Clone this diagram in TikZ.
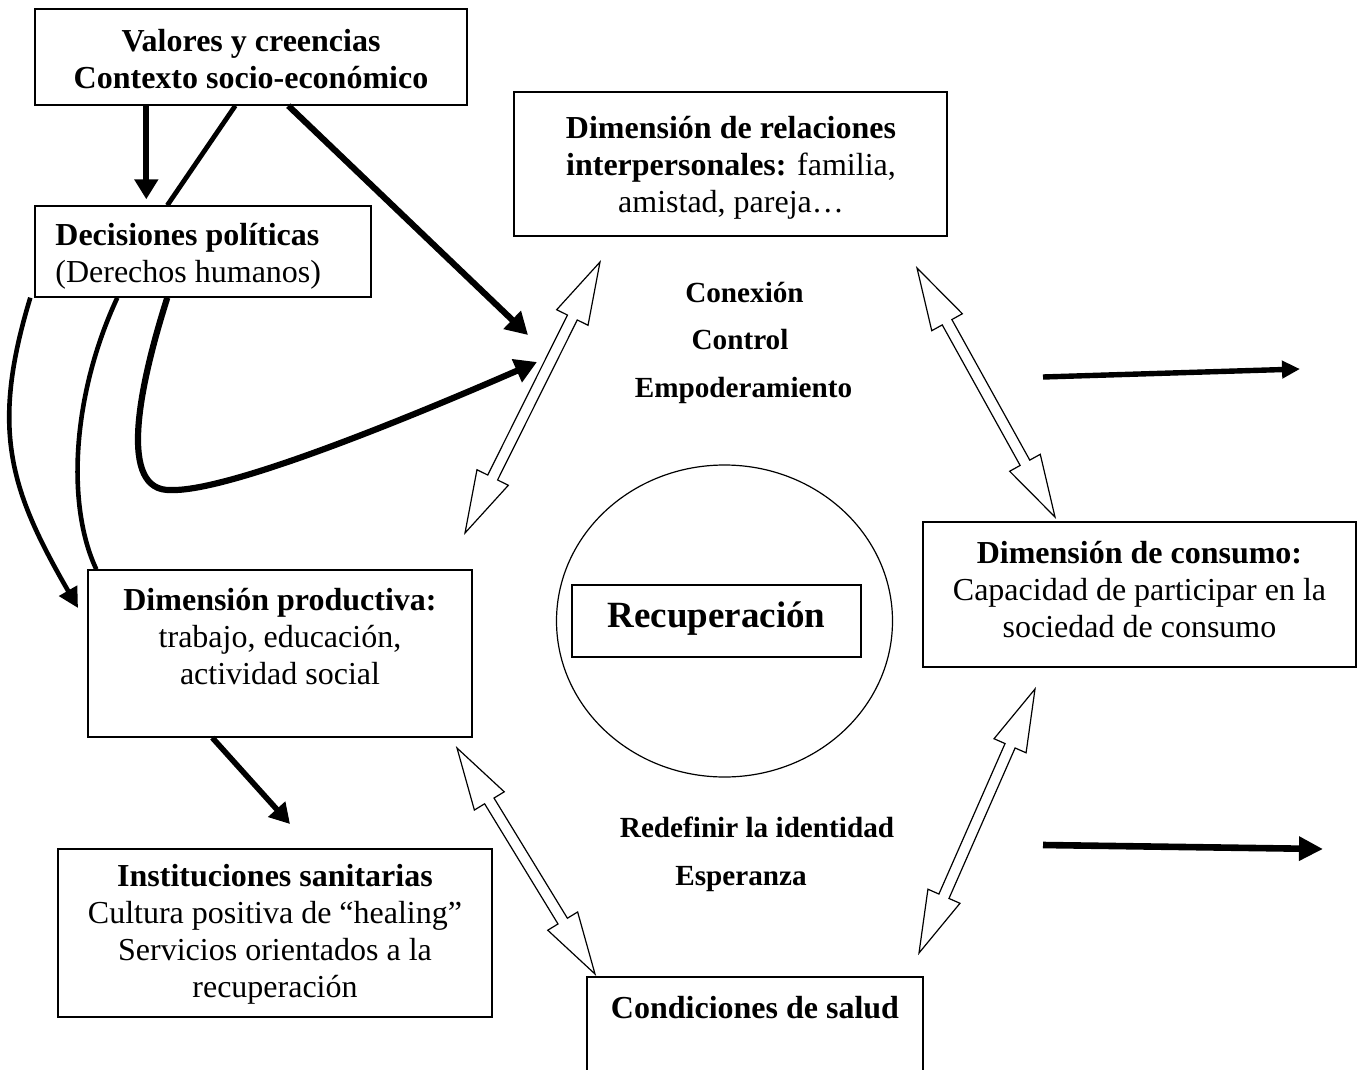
\documentclass[tikz,border=0pt]{standalone}
\usepackage{fontspec}
\setmainfont{Liberation Serif}
\usetikzlibrary{arrows.meta,fit,calc,shapes.geometric}
\def\harrlen{31pt}
\def\harrhw{8.75pt}
\def\harrsw{2.75pt}
\newcommand\hollowdbl[2]{%
 \path[hollow] let \p1=(#1), \p2=(#2), \n1={atan2(\y2-\y1,\x2-\x1)} in
 (\p1) -- ($(\p1)+(\n1:\harrlen)+(\n1+90:\harrhw)$)
 -- ($(\p1)+(\n1:\harrlen)+(\n1+90:\harrsw)$)
 -- ($(\p2)+(\n1+180:\harrlen)+(\n1+90:\harrsw)$)
 -- ($(\p2)+(\n1+180:\harrlen)+(\n1+90:\harrhw)$)
 -- (\p2)
 -- ($(\p2)+(\n1+180:\harrlen)+(\n1-90:\harrhw)$)
 -- ($(\p2)+(\n1+180:\harrlen)+(\n1-90:\harrsw)$)
 -- ($(\p1)+(\n1:\harrlen)+(\n1-90:\harrsw)$)
 -- ($(\p1)+(\n1:\harrlen)+(\n1-90:\harrhw)$)
 -- cycle;}
\tikzset{
 box/.style={draw, line width=0.7pt, inner sep=0pt, rectangle},
 txt/.style={align=center, font=\fontsize{16pt}{18.5pt}\selectfont, inner sep=0pt},
 btxt/.style={align=center, font=\fontsize{16pt}{18.5pt}\selectfont\bfseries, inner sep=0pt},
 lbl/.style={font=\fontsize{14.6pt}{17pt}\selectfont\bfseries, inner sep=0pt},
 hollow/.style={draw, fill=white, line width=0.6pt, line join=miter},
 thk/.style={line width=#1, line cap=butt},
}
\begin{document}
\begin{tikzpicture}[x=0.5pt,y=-0.5pt]
\clip (0,0) rectangle (1359,1070);
\path[use as bounding box] (0,0) rectangle (1359,1070);

% boxes
\node[box, fit={(35,9) (467,105)}] (val) {};
\node[box, fit={(35,206) (371,297)}] (dec) {};
\node[box, fit={(514,92) (947,236)}] (rel) {};
\node[box, fit={(923,522) (1356,667)}] (con) {};
\node[box, fit={(88,570) (472,737)}] (prod) {};
\node[box, fit={(58,849) (492,1017)}] (inst) {};
\node[box, fit={(587,977) (923,1078)}] (cond) {};
\node[draw, ellipse, line width=0.6pt, inner sep=0pt, minimum width=168pt, minimum height=156pt] (circ) at (724.5,621) {};
\node[box, fit={(572,585) (861,657)}] (recb) {};

% texts
\node[btxt] (valt) at (251,59) {Valores y creencias\\Contexto socio-económico};
\node[txt, anchor=west, align=left] (dect) at (55,256) {\textbf{Decisiones políticas}\\(Derechos humanos)};
\node[txt] (relt) at (731,168) {\textbf{Dimensión de relaciones}\\\textbf{interpersonales:} familia,\\amistad, pareja…};
\node[txt] (cont) at (1139.5,590) {\textbf{Dimensión de consumo:}\\Capacidad de participar en la\\sociedad de consumo};
\node[txt] (prodt) at (280,637) {\textbf{Dimensión productiva:}\\trabajo, educación,\\actividad social};
\node[txt] (instt) at (275,934) {\textbf{Instituciones sanitarias}\\Cultura positiva de “healing”\\Servicios orientados a la\\recuperación};
\node[btxt] (condt) at (755,1008) {Condiciones de salud};
\node[inner sep=0pt, font=\fontsize{18.5pt}{21pt}\selectfont\bfseries] (rect) at (716.5,619) {Recuperación};

\node[lbl] (l1) at (744.5,292) {Conexión};
\node[lbl] (l2) at (740,340) {Control};
\node[lbl] (l3) at (743.5,390) {Empoderamiento};
\node[lbl] (l4) at (757,827) {Redefinir la identidad};
\node[lbl] (l5) at (741,879) {Esperanza};

% free ends
\coordinate (t3) at (528,335);
\coordinate (t1) at (78,608);
\coordinate (t3b) at (537,362);
\coordinate (c3m) at (171,490);
\coordinate (t4) at (290,824);
\coordinate (a5s) at (1043,377);
\coordinate (a5e) at (1300,369);
\coordinate (a6s) at (1043,845);
\coordinate (a6e) at (1323,849);

% thick black arrows
\draw[thk=2.9pt, -{Triangle[length=10pt,width=11.5pt]}, shorten >=3pt] ([xshift=56pt]val.south west) -- ([xshift=56pt]dec.north west);
\draw[thk=2.4pt] ([xshift=100.5pt]val.south west) -- ([xshift=66.5pt]dec.north west);
\draw[thk=3.1pt, -{Triangle[length=11pt,width=12pt]}] ([xshift=127pt]val.south west) -- (t3);
\draw[thk=2.3pt, -{Triangle[length=10pt,width=10pt]}] ([xshift=-2pt]dec.south west) .. controls (-10,430) and (10,490) .. (t1);
\draw[thk=2.3pt] ([xshift=41.5pt]dec.south west) .. controls (72,395) and (66,505) .. ([xshift=4.5pt]prod.north west);
\draw[thk=3.1pt, -{Triangle[length=11pt,width=12pt]}] ([xshift=66.5pt]dec.south west) .. controls (138,390) and (118,492) .. (c3m) .. controls (230,492) and (420,413) .. (t3b);
\draw[thk=2.8pt, -{Triangle[length=10pt,width=11pt]}] ([xshift=62.5pt]prod.south west) -- (t4);
\draw[thk=2.7pt, -{Triangle[length=9pt,width=8.5pt]}] (a5s) -- (a5e);
\draw[thk=3.3pt, -{Triangle[length=12pt,width=11.5pt]}] (a6s) -- (a6e);

% hollow double arrows
\coordinate (h1a) at (600,262); \coordinate (h1b) at (465,533);
\coordinate (h2a) at (917,268); \coordinate (h2b) at (1055,517);
\coordinate (h3a) at (457,748); \coordinate (h3b) at (595,974);
\coordinate (h4a) at (1035,689); \coordinate (h4b) at (919,953);
\hollowdbl{h1a}{h1b}
\hollowdbl{h2a}{h2b}
\hollowdbl{h3a}{h3b}
\hollowdbl{h4a}{h4b}
\end{tikzpicture}
\end{document}
